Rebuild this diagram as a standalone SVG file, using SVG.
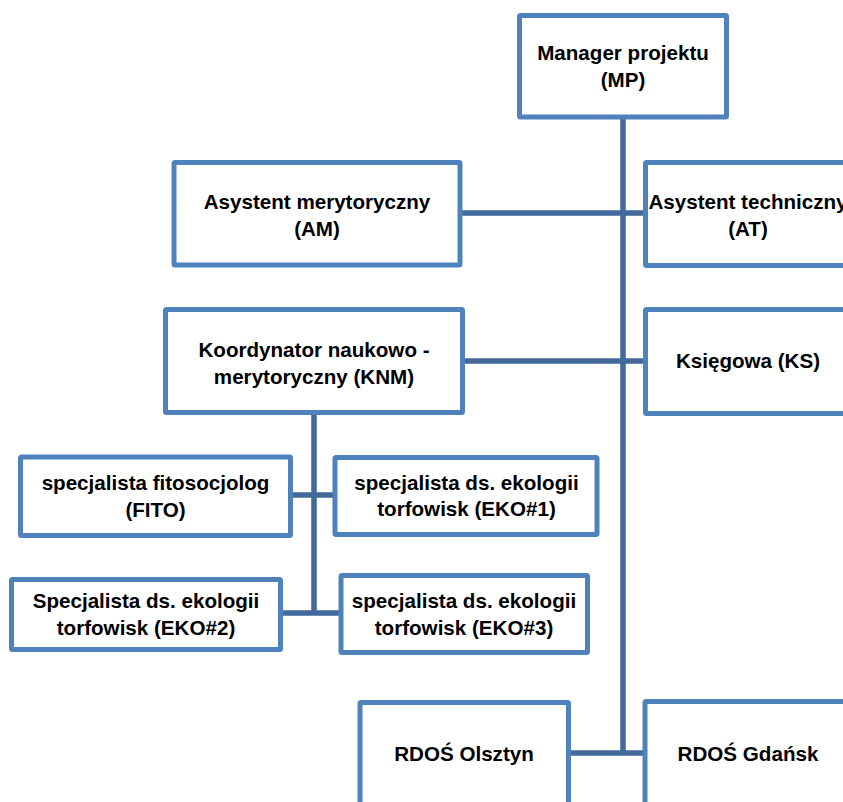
<svg xmlns="http://www.w3.org/2000/svg" width="843" height="802" viewBox="0 0 843 802">
<style>
.box{fill:#fff;stroke:#4F81BD;stroke-width:5}
.con{stroke:#41699A;stroke-width:5.5;fill:none}
text{font-family:"Liberation Sans",Arial,sans-serif;font-weight:bold;font-size:20.6px;fill:#000;text-anchor:middle}
</style>
<rect width="843" height="802" fill="#fff"/>
<g id="connectors">
<line class="con" x1="623" y1="116" x2="623" y2="753"/>
<line class="con" x1="460" y1="213" x2="646" y2="213"/>
<line class="con" x1="462" y1="361" x2="646" y2="361"/>
<line class="con" x1="568" y1="753" x2="646" y2="753"/>
<line class="con" x1="314" y1="412" x2="314" y2="613"/>
<line class="con" x1="290" y1="495" x2="335" y2="495"/>
<line class="con" x1="280" y1="613" x2="341" y2="613"/>
</g>
<g id="MP"><rect class="box" x="519.5" y="15.5" width="207" height="101.5" rx="1"/><text x="623" y="60">Manager projektu</text><text x="623" y="87">(MP)</text></g>
<g id="AM"><rect class="box" x="174" y="162.5" width="286" height="102.5" rx="1"/><text x="317" y="209">Asystent merytoryczny</text><text x="317" y="236">(AM)</text></g>
<g id="AT"><rect class="box" x="645.5" y="162.5" width="206" height="103" rx="1"/><text x="748" y="209">Asystent techniczny</text><text x="748" y="236">(AT)</text></g>
<g id="KNM"><rect class="box" x="165.5" y="309.5" width="297" height="103" rx="1"/><text x="314" y="357">Koordynator naukowo -</text><text x="314" y="384">merytoryczny (KNM)</text></g>
<g id="KS"><rect class="box" x="645.5" y="309.5" width="206" height="104" rx="1"/><text x="748" y="368">Księgowa (KS)</text></g>
<g id="FITO"><rect class="box" x="20.5" y="457" width="270" height="78.5" rx="1"/><text x="155.5" y="490">specjalista fitosocjolog</text><text x="155.5" y="517">(FITO)</text></g>
<g id="EKO1"><rect class="box" x="335" y="457.5" width="262" height="77" rx="1"/><text x="466.5" y="490">specjalista ds. ekologii</text><text x="466.5" y="516">torfowisk (EKO#1)</text></g>
<g id="EKO2"><rect class="box" x="11.5" y="579.5" width="269" height="70" rx="1"/><text x="146" y="608">Specjalista ds. ekologii</text><text x="146" y="635">torfowisk (EKO#2)</text></g>
<g id="EKO3"><rect class="box" x="341" y="575.5" width="246.5" height="77" rx="1"/><text x="464" y="608">specjalista ds. ekologii</text><text x="464" y="635">torfowisk (EKO#3)</text></g>
<g id="RDOS_Olsztyn"><rect class="box" x="360" y="702.5" width="208.5" height="120" rx="1"/><text x="464" y="761">RDOŚ Olsztyn</text></g>
<g id="RDOS_Gdansk"><rect class="box" x="645" y="701.5" width="206" height="120" rx="1"/><text x="748" y="761">RDOŚ Gdańsk</text></g>
</svg>
